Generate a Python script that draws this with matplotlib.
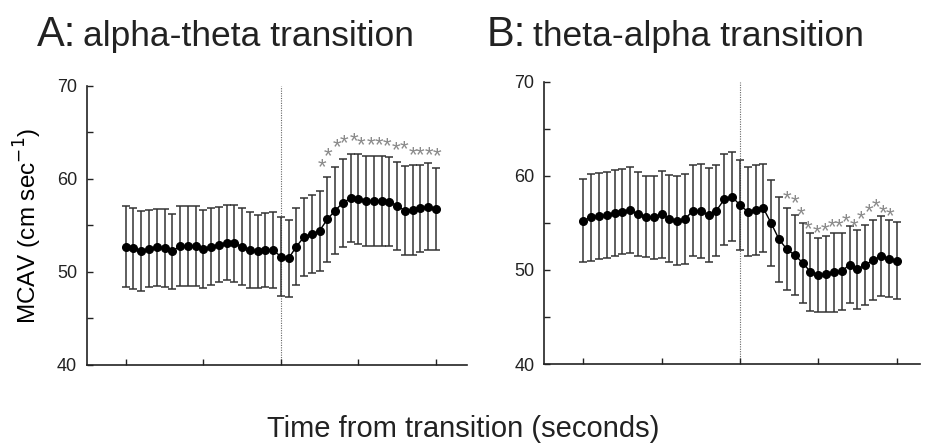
import matplotlib
matplotlib.use('Agg')
import matplotlib.pyplot as plt
import matplotlib.transforms as mtransforms

plt.rcParams['font.family'] = ['Liberation Sans', 'DejaVu Sans']

# seconds relative to the transition
secs = list(range(-20, 21))

# A: alpha-theta transition, mean MCAV and SD
mean_a = [52.72, 52.55, 52.26, 52.51, 52.66, 52.58, 52.23, 52.80, 52.83, 52.80,
          52.50, 52.72, 52.94, 53.15, 53.09, 52.72, 52.37, 52.23, 52.37, 52.37,
          51.65, 51.47, 52.72, 53.80, 54.05, 54.44, 55.67, 56.60, 57.45, 57.92,
          57.81, 57.60, 57.63, 57.63, 57.56, 57.10, 56.60, 56.67, 56.85, 57.02,
          56.77]
sd_a = [4.34, 4.38, 4.34, 4.13, 4.12, 4.16, 4.05, 4.32, 4.30, 4.30,
        4.20, 4.13, 4.01, 4.05, 4.16, 4.16, 4.09, 3.94, 3.98, 4.13,
        4.27, 4.15, 4.13, 4.20, 4.18, 4.32, 4.57, 4.70, 4.74, 4.72,
        4.84, 4.84, 4.84, 4.80, 4.81, 4.73, 4.77, 4.80, 4.70, 4.66,
        4.45]
star_x_a = [5.3, 6.1, 7.2, 8.2, 9.4, 10.4, 11.6, 12.6, 13.7, 14.8, 15.9, 17.0, 18.0, 19.1, 20.2]
star_y_a = [62.0, 63.2, 64.2, 64.55, 64.8, 64.4, 64.4, 64.4, 64.3, 63.8, 63.9, 63.3, 63.3, 63.3, 63.15]

# B: theta-alpha transition, mean MCAV and SD
mean_b = [55.23, 55.59, 55.73, 55.80, 56.05, 56.18, 56.37, 55.91, 55.65, 55.59,
          55.91, 55.44, 55.23, 55.41, 56.29, 56.26, 55.83, 56.29, 57.50, 57.78,
          56.90, 56.19, 56.37, 56.55, 54.95, 53.25, 52.19, 51.58, 50.77, 49.81,
          49.46, 49.55, 49.75, 49.86, 50.56, 50.07, 50.52, 51.05, 51.44, 51.20,
          50.98]
sd_b = [4.43, 4.60, 4.53, 4.57, 4.52, 4.52, 4.59, 4.47, 4.28, 4.43,
        4.60, 4.60, 4.75, 4.82, 4.82, 4.96, 4.97, 4.82, 4.84, 4.75,
        4.79, 4.75, 4.79, 4.68, 4.57, 4.52, 4.35, 4.25, 4.25, 4.15,
        3.90, 4.07, 4.17, 4.07, 4.10, 4.22, 4.25, 4.29, 4.25, 4.08,
        4.11]
star_x_b = [6.0, 7.0, 7.8, 8.7, 9.8, 10.9, 11.8, 12.6, 13.6, 14.6, 15.5, 16.5, 17.4, 18.3, 19.2]
star_y_b = [58.2, 57.8, 56.55, 55.1, 54.65, 54.9, 55.25, 55.3, 55.85, 55.25, 56.1, 56.9, 57.35, 56.75, 56.4]

fig = plt.figure(figsize=(9.33, 4.45), dpi=100)
ax_a = fig.add_axes([0.0932, 0.1798, 0.4073, 0.627])
ax_b = fig.add_axes([0.5831, 0.182, 0.403, 0.6344])

panels = [
    (ax_a, mean_a, sd_a, star_x_a, star_y_a, (-25, 24)),
    (ax_b, mean_b, sd_b, star_x_b, star_y_b, (-25, 23)),
]

for ax, mean, sd, sx, sy, xlim in panels:
    ax.axvline(0, color='#666666', lw=0.8, ls=(0, (1, 1.2)), zorder=1)
    ax.errorbar(secs, mean, yerr=sd, fmt='none', ecolor='#333333',
                elinewidth=1.1, capsize=3.2, capthick=1.1, zorder=2)
    ax.plot(secs, mean, color='black', lw=1.0, marker='o', ms=5.5,
            mfc='black', mec='black', zorder=3)
    # significance asterisks, glyph centred on the read position
    star_tr = mtransforms.offset_copy(ax.transData, fig=fig, x=0, y=-9.3, units='points')
    for x, y in zip(sx, sy):
        ax.text(x, y, '*', color='#8a8a8a', fontsize=16, ha='center',
                va='baseline', transform=star_tr)

    ax.set_xlim(*xlim)
    ax.set_ylim(40, 70)
    ax.set_yticks([40, 50, 60, 70])
    ax.set_yticks([45, 55, 65], minor=True)
    ax.set_xticks([-20, -10, 0, 10, 20])
    ax.set_xticklabels([])
    for side in ['top', 'right']:
        ax.spines[side].set_visible(False)
    for side in ['left', 'bottom']:
        ax.spines[side].set_linewidth(1.2)
        ax.spines[side].set_color('#222222')
    ax.tick_params(axis='both', which='both', direction='in', length=4,
                   width=1.0, colors='#222222', labelsize=13, labelcolor='#222222')
    ax.tick_params(axis='y', pad=7)

ax_a.set_ylabel('MCAV (cm sec$^{-1}$)', fontsize=17.5, labelpad=9)

fig.text(0.496, 0.018, 'Time from transition (seconds)', fontsize=21,
         ha='center', va='baseline', color='#222222')

fig.text(37 / 933, 1 - 46 / 445, 'A:', fontsize=30, va='baseline', color='#222222')
fig.text(83 / 933, 1 - 46 / 445, 'alpha-theta transition', fontsize=25.5,
         va='baseline', color='#222222')
fig.text(487 / 933, 1 - 46 / 445, 'B:', fontsize=30, va='baseline', color='#222222')
fig.text(533 / 933, 1 - 46 / 445, 'theta-alpha transition', fontsize=25.5,
         va='baseline', color='#222222')

fig.savefig('out.png', dpi=100)
